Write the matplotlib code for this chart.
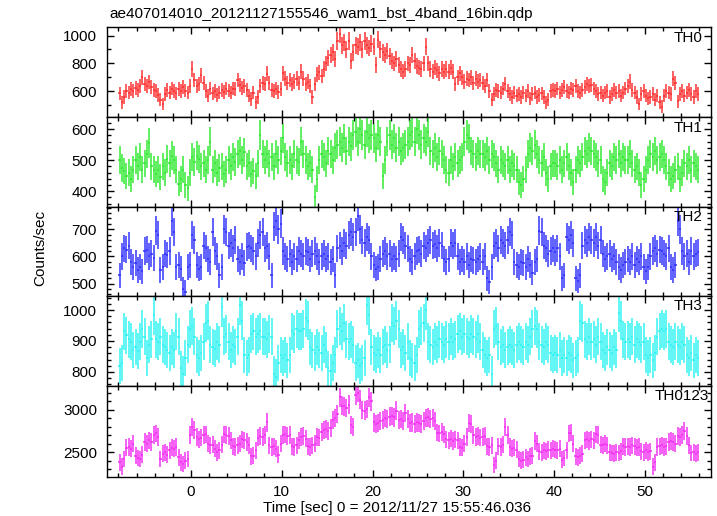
import numpy as np
import matplotlib
matplotlib.use("Agg")
import matplotlib.pyplot as plt
from matplotlib.ticker import MultipleLocator

# ---------------- data (0.25 s bins, counts/sec) ----------------
t_start = -7.875
bin_size = 0.25

th0 = [
    585, 520, 560, 600, 590, 615, 600, 625, 610, 640, 700, 655, 640, 665, 630, 610,
    600, 575, 540, 510, 580, 610, 590, 620, 600, 585, 615, 600, 630, 605, 590, 640,
    760, 680, 640, 650, 715, 660, 600, 570, 620, 585, 600, 575, 590, 610, 595, 620,
    605, 590, 620, 615, 680, 645, 625, 640, 610, 570, 545, 590, 520, 560, 640, 660,
    650, 725, 660, 610, 600, 620, 595, 615, 730, 690, 660, 680, 650, 670, 690, 660,
    740, 690, 650, 670, 640, 560, 650, 720, 735, 710, 760, 800, 840, 860, 880, 830,
    960, 1010, 930, 950, 900, 960, 820, 880, 930, 920, 950, 900, 960, 930, 910, 940,
    920, 790, 970, 900, 880, 860, 890, 850, 820, 800, 830, 790, 760, 740, 760, 800,
    790, 860, 820, 780, 770, 760, 800, 920, 800, 760, 740, 770, 750, 730, 760, 740,
    760, 740, 770, 740, 650, 700, 730, 700, 670, 690, 680, 700, 660, 690, 670, 680,
    660, 640, 680, 600, 540, 580, 610, 600, 590, 620, 650, 600, 580, 560, 590, 570,
    580, 560, 590, 570, 600, 550, 580, 590, 560, 575, 585, 560, 520, 540, 600, 610,
    600, 620, 590, 610, 630, 600, 590, 620, 610, 640, 600, 590, 610, 630, 650, 640,
    645, 620, 600, 580, 590, 570, 590, 600, 560, 580, 610, 590, 600, 570, 590, 620,
    640, 670, 610, 590, 560, 510, 580, 600, 570, 550, 560, 580, 540, 570, 520, 490,
    570, 600, 590, 580, 690, 660, 530, 580, 600, 570, 590, 610, 580, 560, 600, 580,
]

th1 = [
    500, 475, 465, 450, 460, 440, 470, 500, 480, 510, 470, 490, 520, 555, 480, 470,
    455, 470, 445, 480, 460, 505, 490, 515, 500, 470, 425, 440, 470, 420, 410, 460,
    510, 495, 515, 505, 480, 490, 470, 500, 560, 470, 490, 460, 475, 480, 455, 470,
    500, 480, 510, 495, 520, 530, 500, 525, 480, 490, 455, 465, 450, 490, 580, 520,
    500, 520, 490, 510, 480, 520, 500, 530, 570, 510, 490, 500, 480, 520, 500, 495,
    560, 520, 500, 480, 490, 470, 380, 440, 500, 520, 510, 490, 530, 520, 500, 540,
    550, 560, 540, 570, 530, 560, 545, 580, 590, 560, 600, 580, 550, 590, 570, 580,
    570, 540, 580, 560, 450, 500, 560, 580, 550, 570, 540, 560, 530, 540, 550, 560,
    580, 590, 560, 600, 580, 550, 570, 560, 590, 530, 520, 540, 510, 530, 520, 500,
    470, 460, 500, 480, 510, 490, 500, 510, 560, 580, 570, 530, 520, 510, 530, 520,
    520, 510, 530, 500, 520, 510, 490, 470, 500, 490, 480, 500, 470, 490, 480, 470,
    430, 420, 440, 470, 520, 540, 530, 550, 520, 500, 490, 510, 460, 440, 480, 490,
    490, 480, 500, 470, 490, 510, 480, 460, 430, 470, 500, 490, 510, 530, 520, 540,
    530, 520, 510, 490, 500, 440, 430, 460, 490, 480, 510, 500, 520, 490, 510, 500,
    500, 520, 490, 470, 480, 460, 420, 440, 470, 500, 520, 510, 530, 500, 510, 520,
    500, 480, 460, 440, 450, 470, 480, 440, 460, 490, 480, 500, 470, 490, 480, 470,
]

th2 = [
    530, 600, 630, 625, 640, 580, 560, 575, 550, 560, 545, 620, 625, 600, 610, 595,
    695, 680, 550, 560, 610, 605, 620, 730, 690, 560, 570, 555, 480, 470, 560, 570,
    680, 660, 570, 555, 560, 640, 630, 590, 580, 690, 620, 600, 530, 560, 700, 690,
    640, 650, 630, 660, 590, 580, 600, 575, 635, 640, 630, 620, 600, 650, 680, 690,
    630, 640, 600, 530, 710, 730, 700, 720, 620, 600, 590, 610, 580, 600, 590, 620,
    610, 600, 620, 615, 590, 610, 620, 600, 580, 600, 610, 590, 600, 580, 590, 530,
    630, 640, 620, 650, 640, 680, 690, 670, 690, 750, 700, 660, 650, 670, 660, 600,
    570, 555, 560, 590, 610, 620, 600, 610, 590, 600, 590, 610, 670, 660, 640, 630,
    590, 580, 600, 620, 625, 610, 640, 630, 650, 660, 640, 645, 630, 650, 640, 590,
    580, 590, 650, 640, 650, 600, 580, 590, 580, 600, 570, 590, 585, 580, 590, 600,
    580, 600, 520, 505, 560, 640, 650, 630, 660, 650, 640, 660, 690, 680, 580, 570,
    560, 580, 575, 560, 590, 570, 540, 580, 590, 695, 690, 640, 630, 610, 620, 630,
    615, 630, 600, 520, 530, 670, 660, 680, 650, 520, 510, 530, 640, 660, 650, 670,
    660, 650, 670, 640, 660, 610, 590, 600, 610, 590, 600, 580, 560, 550, 570, 580,
    590, 580, 600, 570, 590, 580, 600, 560, 545, 560, 600, 620, 630, 610, 625, 620,
    610, 600, 630, 560, 550, 570, 730, 700, 620, 600, 610, 580, 620, 600, 610, 615,
]

th3 = [
    819, 828, 931, 918, 905, 897, 871, 880, 867, 897, 940, 914, 845, 888, 905, 983,
    905, 897, 914, 888, 880, 871, 862, 880, 871, 931, 914, 811, 794, 845, 888, 940,
    948, 914, 854, 845, 862, 897, 957, 966, 888, 880, 875, 897, 888, 1009, 914, 923,
    897, 871, 888, 880, 914, 1017, 966, 854, 845, 854, 923, 931, 914, 923, 931, 914,
    914, 905, 923, 914, 794, 785, 828, 854, 845, 854, 837, 854, 931, 923, 940, 931,
    931, 940, 974, 966, 880, 871, 862, 880, 871, 862, 888, 871, 811, 802, 828, 854,
    940, 948, 931, 957, 905, 897, 905, 888, 828, 837, 819, 828, 845, 1017, 983, 880,
    862, 854, 871, 854, 880, 888, 871, 888, 957, 948, 966, 940, 871, 880, 862, 897,
    845, 837, 828, 854, 940, 948, 957, 1000, 897, 888, 880, 897, 888, 905, 897, 888,
    905, 897, 914, 897, 905, 923, 931, 914, 923, 914, 905, 923, 914, 905, 923, 897,
    871, 854, 845, 854, 794, 940, 948, 897, 880, 888, 871, 880, 888, 880, 871, 888,
    897, 888, 880, 897, 888, 914, 940, 948, 940, 897, 888, 880, 897, 888, 862, 854,
    862, 854, 871, 845, 854, 845, 862, 854, 837, 845, 854, 966, 957, 905, 897, 914,
    897, 905, 888, 914, 897, 871, 862, 880, 871, 862, 880, 871, 991, 966, 905, 897,
    905, 897, 914, 888, 905, 897, 888, 897, 854, 845, 854, 837, 862, 914, 931, 940,
    931, 940, 897, 888, 880, 897, 888, 880, 897, 888, 854, 845, 862, 837, 854, 845,
]

th0123 = [
    2380, 2330, 2420, 2550, 2560, 2540, 2600, 2460, 2430, 2420, 2470, 2620, 2600, 2640, 2620, 2700,
    2720, 2680, 2420, 2480, 2500, 2470, 2520, 2550, 2540, 2560, 2440, 2380, 2360, 2400, 2420, 2700,
    2800, 2760, 2680, 2650, 2670, 2700, 2710, 2600, 2580, 2590, 2540, 2500, 2520, 2590, 2710, 2700,
    2690, 2640, 2570, 2560, 2580, 2600, 2650, 2640, 2620, 2580, 2450, 2460, 2520, 2670, 2690, 2680,
    2700, 2850, 2580, 2560, 2570, 2540, 2470, 2600, 2700, 2710, 2690, 2700, 2570, 2560, 2580, 2640,
    2680, 2690, 2660, 2570, 2560, 2580, 2600, 2680, 2670, 2740, 2760, 2770, 2750, 2780, 2880, 2900,
    2950, 3150, 3050, 3040, 3020, 3060, 2820, 2800, 3170, 3200, 3120, 3000, 2990, 3010, 3150, 3100,
    2850, 2830, 2840, 2870, 2880, 2900, 2890, 2920, 2930, 2910, 2990, 2880, 2890, 2870, 2960, 2890,
    2840, 2850, 2830, 2850, 2840, 2830, 2870, 2900, 2910, 2890, 2900, 2870, 2730, 2720, 2740, 2710,
    2650, 2640, 2660, 2630, 2650, 2640, 2560, 2550, 2600, 2680, 2840, 2830, 2700, 2680, 2690, 2670,
    2680, 2690, 2570, 2560, 2580, 2350, 2400, 2570, 2560, 2590, 2800, 2700, 2560, 2540, 2550, 2530,
    2420, 2400, 2410, 2440, 2420, 2450, 2460, 2630, 2600, 2510, 2500, 2520, 2510, 2530, 2520, 2540,
    2530, 2520, 2540, 2410, 2430, 2520, 2720, 2730, 2600, 2450, 2440, 2460, 2480, 2640, 2650, 2630,
    2650, 2640, 2710, 2700, 2590, 2580, 2600, 2580, 2500, 2490, 2480, 2500, 2490, 2510, 2570, 2560,
    2570, 2560, 2580, 2570, 2550, 2560, 2510, 2500, 2520, 2500, 2510, 2330, 2380, 2560, 2570, 2580,
    2560, 2570, 2620, 2630, 2620, 2600, 2690, 2680, 2700, 2750, 2690, 2580, 2490, 2500, 2480, 2500,
]

band_names = ["TH0", "TH1", "TH2", "TH3", "TH0123"]
x_ticks = [0, 10, 20, 30, 40, 50]
title_text = "ae407014010_20121127155546_wam1_bst_4band_16bin.qdp"
x_label = "Time [sec] 0 = 2012/11/27 15:55:46.036"
y_label = "Counts/sec"

# ---------------- style ----------------
plt.rcParams['font.family'] = ['Liberation Sans', 'DejaVu Sans']
FS = 11.0
W, H = 717, 516
series = [th0, th1, th2, th3, th0123]
colors = ["#ff2a2a", "#2ae82a", "#2a2aff", "#2af2f2", "#f22af2"]
ylims = [(416, 1061), (351, 639), (456, 784), (756, 1047), (2212, 3287)]
ymajor = [200, 100, 100, 100, 500]
yminor = [100, 20, 20, 20, 100]
label_x = [702, 702, 702, 702, 709]
edges = [27, 117, 206.5, 295.5, 385.5, 476.5]
x_left, x_right = 106.7, 711.0

fig = plt.figure(figsize=(W / 100, H / 100), dpi=100)
t = t_start + bin_size * np.arange(len(th0))

for i, vals in enumerate(series):
    top, bot = edges[i], edges[i + 1]
    ax = fig.add_axes([x_left / W, 1 - bot / H, (x_right - x_left) / W, (bot - top) / H])
    v = np.asarray(vals, dtype=float)
    err = np.sqrt(v / bin_size)
    ax.errorbar(t, v, xerr=bin_size / 2, yerr=err, fmt='none',
                ecolor=colors[i], elinewidth=1.3, capsize=0, alpha=0.8)
    ax.set_xlim(-9.3, 57.3)
    ax.set_ylim(*ylims[i])
    ax.xaxis.set_major_locator(MultipleLocator(10))
    ax.xaxis.set_minor_locator(MultipleLocator(2))
    ax.yaxis.set_major_locator(MultipleLocator(ymajor[i]))
    ax.yaxis.set_minor_locator(MultipleLocator(yminor[i]))
    ax.tick_params(axis='both', which='both', direction='in', top=True, right=True,
                   labelsize=FS, colors='black')
    ax.tick_params(axis='both', which='major', length=5, width=1)
    ax.tick_params(axis='both', which='minor', length=3, width=1)
    ax.tick_params(axis='y', pad=7)
    ax.tick_params(axis='x', pad=6)
    ax.set_xticks(x_ticks)
    for s in ax.spines.values():
        s.set_linewidth(1.0)
    if i < len(series) - 1:
        ax.tick_params(axis='x', labelbottom=False)
    ax.text(label_x[i] / W, 1 - (top + 10.5) / H, band_names[i], transform=fig.transFigure,
            ha='right', va='center', fontsize=FS)

fig.text(109 / W, 1 - 18 / H, title_text, ha='left', va='baseline', fontsize=FS)
fig.text(397.5 / W, 1 - 508 / H, x_label, ha='center', va='center', fontsize=FS)
fig.text(40 / W, 1 - 248 / H, y_label, ha='center', va='center', rotation=90, fontsize=FS)

fig.savefig("out.png", dpi=100)
